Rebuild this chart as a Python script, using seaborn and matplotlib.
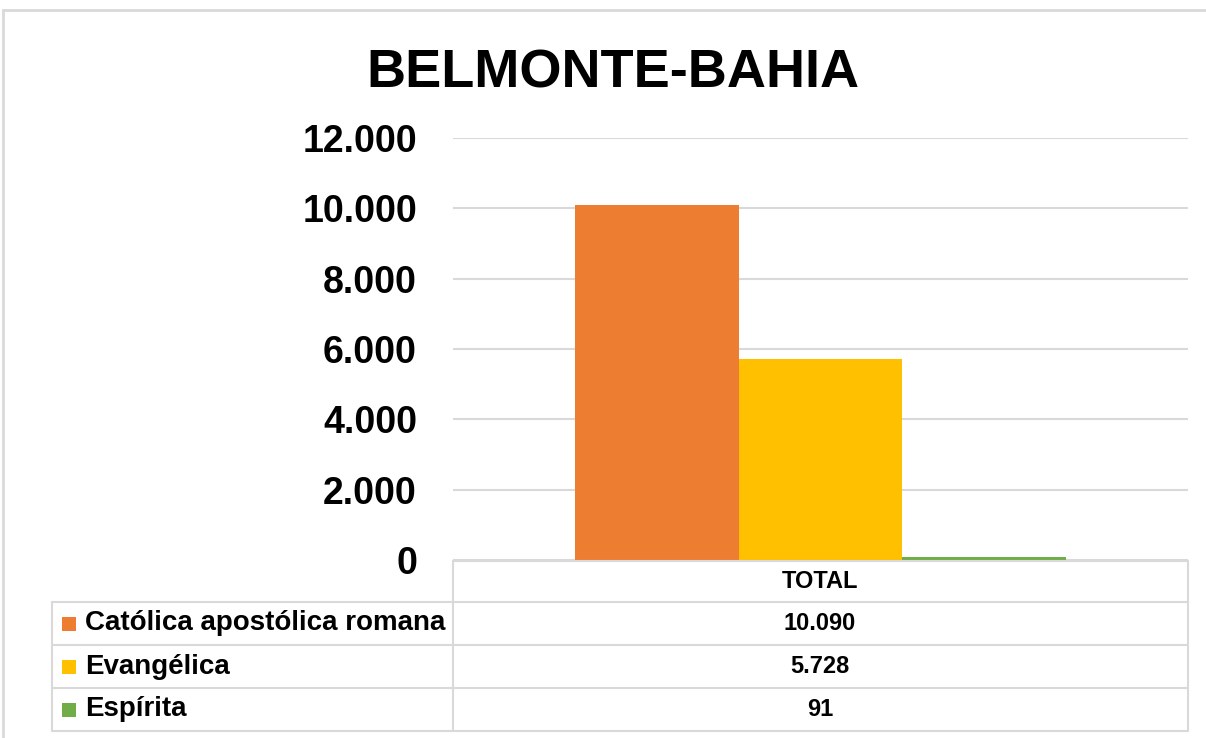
import matplotlib
matplotlib.use('Agg')
import matplotlib.pyplot as plt
from matplotlib.patches import Rectangle
from matplotlib.ticker import FuncFormatter
from matplotlib.lines import Line2D
import pandas as pd
import seaborn as sns

# data
categories = ['TOTAL']
series = ['Católica apostólica romana', 'Evangélica', 'Espírita']
values = [10090, 5728, 91]
colors = ['#ED7D31', '#FFC000', '#70AD47']
title = 'BELMONTE-BAHIA'

sns.set_style('white')
plt.rcParams['font.family'] = ['Liberation Sans', 'DejaVu Sans']
plt.rcParams['text.color'] = 'black'
plt.rcParams['ytick.color'] = 'black'

W, H = 1206, 738
fig = plt.figure(figsize=(W / 100, H / 100), dpi=100)


def fx(px):
    return px / W


def fy(py):
    return 1 - py / H


ax = fig.add_axes([fx(453), fy(560), fx(1188) - fx(453), fy(138) - fy(560)])

df = pd.DataFrame({'cat': categories * len(series), 'serie': series, 'valor': values})
sns.barplot(data=df, x='cat', y='valor', hue='serie', palette=colors, width=0.667,
            saturation=1, ax=ax, legend=False, linewidth=0)

ax.set_xlim(-0.5, 0.5)
ax.set_ylim(0, 12000)
ax.set_yticks(range(0, 12001, 2000))
ax.yaxis.set_major_formatter(FuncFormatter(lambda v, p: f'{int(v):,}'.replace(',', '.')))
ax.tick_params(axis='y', length=0, pad=26, labelsize=27, labelcolor='black')
for lab in ax.get_yticklabels():
    lab.set_fontweight('bold')
ax.set_xticks([])
ax.set_xlabel('')
ax.set_ylabel('')
ax.yaxis.grid(True, color='#D9D9D9', linewidth=1.5)
ax.set_axisbelow(True)
for s in ax.spines.values():
    s.set_visible(False)

# outer frame
fig.patches.append(Rectangle((fx(3), fy(745)), fx(1215) - fx(3), fy(10) - fy(745),
                             transform=fig.transFigure, fill=False,
                             edgecolor='#D9D9D9', linewidth=2))

fig.text(fx(613), fy(68), title, ha='center', va='center_baseline', fontsize=39,
         fontweight='bold', color='black')

# data table
gc = '#D9D9D9'
def hline(y, x0, x1):
    fig.add_artist(Line2D([fx(x0), fx(x1)], [fy(y), fy(y)], color=gc, linewidth=1.5))

def vline(x, y0, y1):
    fig.add_artist(Line2D([fx(x), fx(x)], [fy(y0), fy(y1)], color=gc, linewidth=1.5))

rows = [561, 602, 645, 688, 731]
hline(rows[0], 453, 1188)
for y in rows[1:]:
    hline(y, 52, 1188)
vline(52, 602, 731)
vline(453, 561, 731)
vline(1188, 561, 731)

fig.text(fx(820), fy((rows[0] + rows[1]) / 2), categories[0], ha='center', va='center',
         fontsize=17, fontweight='bold', color='black')
for i, (name, v, c) in enumerate(zip(series, values, colors)):
    yc = (rows[i + 1] + rows[i + 2]) / 2
    fig.patches.append(Rectangle((fx(62), fy(yc + 7)), fx(14), fy(0) - fy(14),
                                 transform=fig.transFigure, facecolor=c, edgecolor='none'))
    fig.text(fx(85), fy(yc), name, ha='left', va='center', fontsize=20, fontweight='bold',
             color='black')
    fig.text(fx(820), fy(yc), f'{v:,}'.replace(',', '.'), ha='center', va='center',
             fontsize=17, fontweight='bold', color='black')

fig.savefig('out.png', dpi=100)
